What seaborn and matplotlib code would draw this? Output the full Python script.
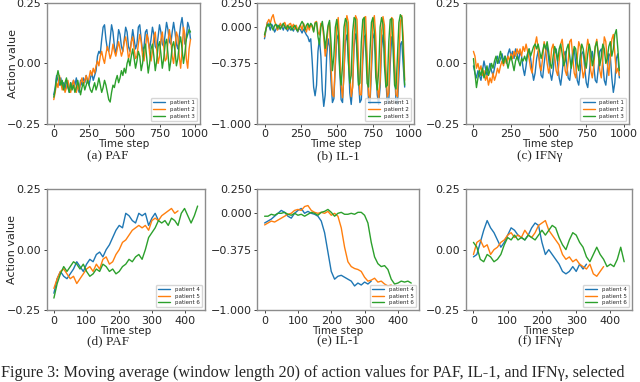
import numpy as np
import pandas as pd
import matplotlib
matplotlib.use("Agg")
import matplotlib.pyplot as plt
import seaborn as sns

STEP = 10

# ---- top row: patients 1-3 (about 980 steps) ----
paf_p1 = [-0.13, -0.10, -0.05, -0.07, -0.09, -0.06, -0.10, -0.08, -0.11, -0.07,
          -0.09, -0.12, -0.08, -0.10, -0.07, -0.09, -0.06, -0.10, -0.12, -0.07,
          -0.09, -0.06, -0.08, -0.05, -0.07, -0.09, -0.06, -0.04, -0.07, -0.05,
          -0.03, 0.03, 0.05, 0.04, 0.10, 0.15, 0.16, 0.10, 0.06, 0.05,
          0.10, 0.16, 0.13, 0.07, 0.04, 0.08, 0.14, 0.12, 0.07, 0.05,
          0.10, 0.15, 0.13, 0.07, 0.05, 0.09, 0.14, 0.10, 0.06, 0.08,
          0.15, 0.16, 0.10, 0.05, 0.07, 0.13, 0.14, 0.09, 0.06, 0.10,
          0.15, 0.12, 0.07, 0.06, 0.11, 0.16, 0.13, 0.08, 0.07, 0.12,
          0.17, 0.14, 0.09, 0.08, 0.13, 0.17, 0.13, 0.08, 0.06, 0.11,
          0.16, 0.19, 0.14, 0.08, 0.10, 0.17, 0.15, 0.10]
paf_p2 = [-0.15, -0.12, -0.08, -0.10, -0.05, -0.08, -0.11, -0.09, -0.12, -0.10,
          -0.07, -0.10, -0.12, -0.09, -0.07, -0.10, -0.12, -0.09, -0.11, -0.08,
          -0.06, -0.09, -0.07, -0.05, -0.08, -0.06, -0.03, -0.05, -0.02, -0.04,
          -0.01, 0.01, -0.01, 0.03, 0.05, 0.02, 0.00, 0.04, 0.07, 0.05,
          0.02, 0.04, 0.08, 0.05, 0.03, 0.06, 0.09, 0.06, 0.03, 0.05,
          0.09, 0.11, 0.07, 0.02, 0.04, 0.09, 0.11, 0.06, 0.02, 0.03,
          0.08, 0.12, 0.09, 0.03, 0.01, 0.06, 0.12, 0.10, 0.04, 0.01,
          0.05, 0.11, 0.13, 0.06, 0.00, 0.03, 0.10, 0.13, 0.07, 0.01,
          0.02, 0.09, 0.14, 0.10, 0.03, 0.00, 0.06, 0.13, 0.11, 0.03,
          -0.02, 0.05, 0.15, 0.12, 0.02, -0.02, 0.06, 0.10]
paf_p3 = [-0.14, -0.11, -0.06, -0.03, -0.06, -0.09, -0.07, -0.11, -0.08, -0.06,
          -0.10, -0.12, -0.08, -0.11, -0.09, -0.12, -0.10, -0.07, -0.10, -0.13,
          -0.10, -0.08, -0.11, -0.09, -0.07, -0.09, -0.11, -0.12, -0.10, -0.08,
          -0.11, -0.09, -0.06, -0.09, -0.12, -0.10, -0.07, -0.09, -0.12, -0.15,
          -0.16, -0.12, -0.09, -0.10, -0.07, -0.05, -0.08, -0.06, -0.03, -0.05,
          -0.02, -0.04, 0.00, 0.02, -0.01, 0.03, 0.06, 0.02, -0.02, 0.01,
          0.05, 0.03, -0.03, 0.00, 0.06, 0.08, 0.02, -0.04, 0.00, 0.06,
          0.08, 0.03, -0.03, 0.01, 0.07, 0.09, 0.04, -0.02, 0.02, 0.08,
          0.10, 0.04, -0.03, 0.01, 0.07, 0.09, 0.05, -0.01, 0.02, 0.08,
          0.11, 0.06, 0.00, 0.04, 0.10, 0.12, 0.14, 0.13]

il1_p1 = [-0.12, -0.03, 0.05, 0.02, -0.03, 0.03, 0.00, -0.05, -0.02, 0.02,
          -0.02, 0.03, 0.01, -0.03, 0.02, -0.01, -0.04, 0.00, -0.03, -0.01,
          -0.04, 0.00, -0.02, -0.05, -0.01, -0.03, -0.06, -0.02, -0.05, -0.08,
          -0.10, -0.15, -0.12, -0.35, -0.62, -0.71, -0.60, -0.25, -0.12, -0.30,
          -0.65, -0.82, -0.70, -0.30, -0.12, -0.20, -0.55, -0.78, -0.74, -0.40,
          -0.12, -0.08, -0.40, -0.75, -0.78, -0.45, -0.14, -0.08, -0.30, -0.68,
          -0.80, -0.60, -0.20, -0.07, -0.15, -0.55, -0.78, -0.75, -0.35, -0.10,
          -0.08, -0.42, -0.76, -0.79, -0.45, -0.12, -0.06, -0.30, -0.70, -0.80,
          -0.62, -0.22, -0.08, -0.15, -0.55, -0.79, -0.76, -0.38, -0.10, -0.10,
          -0.45, -0.77, -0.80, -0.50, -0.18, -0.15, -0.40, -0.62]
il1_p2 = [-0.10, -0.02, 0.05, 0.08, 0.04, 0.10, 0.13, 0.06, 0.02, -0.03,
          0.01, 0.04, 0.00, 0.03, 0.05, 0.01, -0.02, 0.03, 0.04, 0.00,
          0.03, -0.02, 0.02, -0.04, -0.01, 0.02, -0.03, 0.04, 0.00, -0.05,
          0.02, -0.03, 0.03, 0.00, -0.04, 0.05, 0.06, -0.05, -0.08, 0.04,
          0.02, -0.10, -0.30, -0.20, 0.00, 0.05, -0.40, -0.70, -0.72, -0.35,
          0.00, 0.10, -0.15, -0.60, -0.73, -0.50, 0.00, 0.12, 0.05, -0.45,
          -0.72, -0.62, -0.10, 0.12, 0.08, -0.35, -0.70, -0.70, -0.25, 0.10,
          0.11, -0.30, -0.70, -0.74, -0.35, 0.05, 0.12, -0.10, -0.60, -0.74,
          -0.55, -0.05, 0.11, 0.02, -0.45, -0.72, -0.68, -0.20, 0.10, 0.08,
          -0.35, -0.70, -0.72, -0.30, 0.05, 0.12, -0.10, -0.55]
il1_p3 = [-0.08, -0.02, 0.03, 0.01, 0.04, 0.00, -0.03, 0.02, 0.03, -0.01,
          0.02, -0.02, 0.01, 0.04, 0.00, -0.02, 0.02, -0.01, 0.01, -0.03,
          0.00, 0.02, -0.02, -0.04, 0.00, 0.03, 0.06, 0.03, -0.03, 0.02,
          0.04, 0.00, 0.04, 0.02, -0.05, 0.04, 0.05, -0.10, -0.18, 0.00,
          0.06, -0.05, -0.22, -0.10, 0.02, 0.07, -0.15, -0.45, -0.30, 0.00,
          0.08, -0.05, -0.45, -0.60, -0.40, 0.00, 0.09, 0.05, -0.35, -0.58,
          -0.50, -0.05, 0.10, 0.08, -0.30, -0.60, -0.58, -0.15, 0.08, 0.10,
          -0.20, -0.58, -0.62, -0.25, 0.05, 0.10, -0.05, -0.52, -0.65, -0.45,
          0.00, 0.10, 0.03, -0.40, -0.62, -0.60, -0.15, 0.08, 0.09, -0.25,
          -0.60, -0.64, -0.30, 0.05, 0.13, 0.10, -0.25, -0.60]

ifn_p1 = [-0.01, -0.04, -0.06, -0.03, -0.05, -0.07, -0.03, 0.01, -0.02, -0.05,
          -0.03, 0.00, -0.03, -0.05, -0.02, 0.01, 0.03, 0.00, 0.02, 0.04,
          0.01, 0.03, 0.00, 0.04, 0.06, 0.03, 0.05, 0.02, 0.06, 0.04,
          0.01, 0.05, 0.03, -0.02, -0.05, -0.01, 0.04, 0.06, 0.02, -0.03,
          -0.07, -0.04, 0.02, 0.05, 0.01, -0.05, -0.06, 0.00, 0.05, 0.07,
          0.02, -0.04, -0.07, -0.03, 0.04, 0.06, 0.00, -0.06, -0.09, -0.04,
          0.03, 0.05, 0.00, -0.06, -0.07, -0.01, 0.05, 0.06, 0.00, -0.07,
          -0.09, -0.03, 0.04, 0.05, -0.02, -0.08, -0.10, -0.04, 0.03, 0.05,
          -0.01, -0.07, -0.08, -0.02, 0.05, 0.06, 0.00, -0.07, -0.09, -0.03,
          0.04, 0.03, -0.06, -0.12, -0.08, 0.02, 0.04, -0.06]
ifn_p2 = [0.05, 0.03, -0.02, 0.00, -0.03, -0.01, -0.05, -0.03, -0.07, -0.05,
          -0.09, -0.06, -0.08, -0.04, -0.07, -0.05, -0.02, -0.04, -0.01, 0.01,
          -0.01, 0.02, 0.00, 0.03, 0.01, 0.04, 0.02, 0.05, 0.03, 0.06,
          0.04, 0.06, 0.03, 0.07, 0.05, 0.08, 0.05, 0.02, -0.02, -0.04,
          0.02, 0.08, 0.11, 0.06, -0.01, -0.03, 0.02, 0.09, 0.06, 0.00,
          -0.04, -0.01, 0.06, 0.08, 0.03, -0.03, -0.05, 0.01, 0.08, 0.10,
          0.04, -0.03, -0.05, 0.01, 0.09, 0.10, 0.03, -0.04, -0.06, 0.02,
          0.09, 0.07, -0.01, -0.06, -0.03, 0.05, 0.10, 0.06, -0.03, -0.06,
          -0.01, 0.07, 0.10, 0.04, -0.03, -0.06, 0.02, 0.11, 0.09, 0.00,
          -0.05, 0.03, 0.10, 0.12, 0.04, -0.04, -0.02, -0.05]
ifn_p3 = [0.02, -0.04, -0.10, -0.06, -0.03, -0.05, -0.02, -0.06, -0.04, -0.01,
          -0.05, -0.03, 0.00, -0.02, 0.01, 0.03, 0.00, 0.02, 0.05, 0.02,
          0.00, 0.03, 0.01, -0.02, 0.01, 0.03, 0.00, -0.03, 0.01, 0.03,
          0.01, -0.01, 0.02, 0.01, 0.03, 0.01, 0.04, 0.06, 0.03, 0.05,
          0.07, 0.08, 0.06, 0.08, 0.05, 0.02, 0.05, 0.08, 0.06, 0.09,
          0.05, 0.00, -0.02, 0.03, 0.07, 0.05, 0.01, 0.06, 0.08, 0.04,
          -0.01, 0.01, 0.06, 0.08, 0.03, -0.02, 0.02, 0.07, 0.06, 0.00,
          -0.03, 0.03, 0.08, 0.06, 0.01, -0.02, 0.04, 0.08, 0.05, -0.01,
          0.02, 0.07, 0.09, 0.04, -0.01, 0.03, 0.08, 0.06, 0.00, 0.02,
          0.07, 0.09, 0.03, 0.06, 0.12, 0.14, 0.06, -0.03]

# ---- bottom row: patients 4-6 (shorter episodes) ----
paf_p4 = [-0.18, -0.12, -0.09, -0.11, -0.12, -0.10, -0.08, -0.05, -0.07, -0.09,
          -0.06, -0.04, -0.05, -0.02, -0.01, -0.03, 0.00, 0.02, 0.05, 0.08,
          0.10, 0.09, 0.15, 0.14, 0.12, 0.11, 0.15, 0.14, 0.15, 0.10,
          0.13, 0.15, 0.12]
paf_p5 = [-0.16, -0.12, -0.09, -0.08, -0.10, -0.12, -0.11, -0.14, -0.12, -0.10,
          -0.08, -0.07, -0.09, -0.06, -0.08, -0.04, -0.03, -0.06, -0.05, -0.02,
          0.00, 0.03, 0.04, 0.06, 0.08, 0.09, 0.10, 0.09, 0.10, 0.08,
          0.12, 0.13, 0.12, 0.14, 0.15, 0.16, 0.17, 0.15, 0.16]
paf_p6 = [-0.20, -0.14, -0.10, -0.07, -0.09, -0.07, -0.05, -0.06, -0.08, -0.06,
          -0.09, -0.11, -0.10, -0.08, -0.09, -0.06, -0.07, -0.09, -0.08, -0.10,
          -0.09, -0.07, -0.06, -0.04, -0.05, -0.03, -0.02, -0.04, 0.00, 0.05,
          0.07, 0.09, 0.12, 0.11, 0.12, 0.10, 0.13, 0.12, 0.10, 0.15,
          0.17, 0.14, 0.11, 0.14, 0.18]

il1_p4 = [-0.10, -0.08, -0.06, -0.03, 0.00, 0.03, 0.01, -0.03, -0.05, 0.00,
          0.03, 0.05, 0.00, 0.02, 0.00, -0.01, -0.03, -0.08, -0.20, -0.40,
          -0.60, -0.68, -0.65, -0.64, -0.66, -0.68, -0.70, -0.75, -0.72, -0.74,
          -0.71, -0.73, -0.70]
il1_p5 = [-0.12, -0.10, -0.08, -0.09, -0.07, -0.05, -0.03, -0.01, 0.00, 0.03,
          0.04, 0.03, 0.07, 0.08, 0.03, 0.01, 0.00, 0.01, 0.00, 0.02,
          -0.02, 0.00, -0.03, -0.15, -0.35, -0.50, -0.55, -0.57, -0.58, -0.60,
          -0.66, -0.70, -0.69, -0.67, -0.71, -0.70, -0.73, -0.75, -0.74]
il1_p6 = [-0.03, -0.03, -0.01, -0.02, 0.00, 0.00, 0.01, -0.01, -0.02, 0.00,
          -0.02, -0.01, -0.03, -0.01, 0.01, 0.00, -0.02, 0.01, 0.02, 0.04,
          0.01, -0.03, 0.00, 0.01, -0.01, -0.01, 0.00, -0.01, 0.01, 0.01,
          -0.02, -0.10, -0.30, -0.45, -0.52, -0.55, -0.54, -0.58, -0.68, -0.73,
          -0.72, -0.70, -0.71, -0.70, -0.72]

ifn_p4 = [-0.03, -0.02, 0.03, 0.08, 0.12, 0.09, 0.07, 0.04, 0.01, 0.03,
          0.06, 0.09, 0.08, 0.06, 0.05, 0.04, 0.06, 0.09, 0.11, 0.10,
          0.03, -0.02, 0.00, -0.02, -0.04, -0.06, -0.09, -0.10, -0.09, -0.07,
          -0.09, -0.06, -0.08, -0.06]
ifn_p5 = [-0.02, 0.03, 0.04, 0.01, 0.02, -0.02, 0.00, 0.01, 0.03, 0.04,
          0.06, 0.07, 0.05, 0.06, 0.05, 0.08, 0.06, 0.05, 0.07, 0.10,
          0.11, 0.12, 0.08, 0.06, 0.04, 0.02, -0.02, -0.04, -0.03, -0.05,
          -0.04, -0.06, -0.07, -0.08, -0.06, -0.10, -0.11, -0.09, -0.07]
ifn_p6 = [0.03, 0.01, -0.04, -0.05, -0.02, -0.03, -0.05, -0.04, -0.02, 0.02,
          0.05, 0.04, 0.06, 0.04, 0.05, 0.04, 0.06, 0.05, 0.04, 0.06,
          0.08, 0.06, 0.08, 0.10, 0.09, 0.05, 0.02, 0.00, 0.04, 0.07,
          0.06, 0.03, 0.01, -0.03, -0.05, -0.02, 0.01, -0.02, -0.04, -0.07,
          -0.06, -0.07, -0.04, 0.01, -0.05]

top_xticks = [0, 250, 500, 750, 1000]
bottom_xticks = [0, 100, 200, 300, 400]
small_yticks = [-0.25, 0.0, 0.25]
il1_yticks = [-1.0, -0.375, 0.0, 0.25]
il1_yticklabels = ["\u22121.000", "\u22120.375", "0.000", "0.250"]

sns.set_style("ticks")
plt.rcParams["font.family"] = ["DejaVu Sans"]

palette = ["#1f77b4", "#ff7f0e", "#2ca02c"]


def make_frame(series):
    rows = []
    for name, vals in series.items():
        for i, v in enumerate(vals):
            rows.append((name, i * STEP, v))
    return pd.DataFrame(rows, columns=["patient", "step", "value"])


def panel(ax, series, xticks, xlim, yticks, ylim, ylabels=None, ylabel=None):
    df = make_frame(series)
    sns.lineplot(data=df, x="step", y="value", hue="patient", palette=palette,
                 estimator=None, linewidth=1.0, ax=ax)
    ax.set_xlim(*xlim)
    ax.set_ylim(*ylim)
    ax.set_xticks(xticks)
    ax.set_yticks(yticks)
    if ylabels is not None:
        ax.set_yticklabels(ylabels)
    ax.tick_params(labelsize=8, length=2.5, width=0.6, pad=1.5)
    ax.set_xlabel("Time step", fontsize=7.5, labelpad=0)
    if ylabel:
        ax.set_ylabel(ylabel, fontsize=8)
        ax.yaxis.set_label_coords(-0.19, 0.5)
    else:
        ax.set_ylabel("")
    for sp in ax.spines.values():
        sp.set_color("#8c8c8c")
        sp.set_linewidth(1.0)
    sns.move_legend(ax, "lower right", title=None, fontsize=4, frameon=True,
                    handlelength=2.2, borderpad=0.4, labelspacing=0.3)


fig = plt.figure(figsize=(6.4, 3.82), dpi=100)

top_b, top_h = 0.676, 0.316
bot_b, bot_h = 0.188, 0.317
ax_a = fig.add_axes([0.073, top_b, 0.239, top_h])
ax_b = fig.add_axes([0.402, top_b, 0.245, top_h])
ax_c = fig.add_axes([0.728, top_b, 0.255, top_h])
ax_d = fig.add_axes([0.073, bot_b, 0.247, bot_h])
ax_e = fig.add_axes([0.402, bot_b, 0.252, bot_h])
ax_f = fig.add_axes([0.728, bot_b, 0.259, bot_h])

top_xlim = (-50, 1035)
bot_xlim = (-22, 462)

panel(ax_a, {"patient 1": paf_p1, "patient 2": paf_p2, "patient 3": paf_p3},
      top_xticks, top_xlim, small_yticks, (-0.25, 0.25), ylabel="Action value")
panel(ax_b, {"patient 1": il1_p1, "patient 2": il1_p2, "patient 3": il1_p3},
      top_xticks, top_xlim, il1_yticks, (-1.0, 0.25), ylabels=il1_yticklabels)
panel(ax_c, {"patient 1": ifn_p1, "patient 2": ifn_p2, "patient 3": ifn_p3},
      top_xticks, top_xlim, small_yticks, (-0.25, 0.25))
panel(ax_d, {"patient 4": paf_p4, "patient 5": paf_p5, "patient 6": paf_p6},
      bottom_xticks, bot_xlim, small_yticks, (-0.25, 0.25), ylabel="Action value")
panel(ax_e, {"patient 4": il1_p4, "patient 5": il1_p5, "patient 6": il1_p6},
      bottom_xticks, bot_xlim, il1_yticks, (-1.0, 0.25), ylabels=il1_yticklabels)
panel(ax_f, {"patient 4": ifn_p4, "patient 5": ifn_p5, "patient 6": ifn_p6},
      bottom_xticks, bot_xlim, small_yticks, (-0.25, 0.25))

serif = ["Liberation Serif", "DejaVu Serif"]
subcaps = [("(a) PAF", 0.169, 0.592), ("(b) IL-1", 0.528, 0.592),
           ("(c) IFN\u03b3", 0.844, 0.592), ("(d) PAF", 0.169, 0.107),
           ("(e) IL-1", 0.528, 0.107), ("(f) IFN\u03b3", 0.844, 0.107)]
for txt, x, y in subcaps:
    fig.text(x, y, txt, ha="center", va="center", fontsize=9.5, family=serif)

fig.text(0.002, 0.014,
         "Figure 3: Moving average (window length 20) of action values for PAF, "
         "IL-1, and IFN\u03b3, selected",
         ha="left", va="baseline", fontsize=11.6, family=serif)

fig.savefig("out.png", dpi=100)
plt.close(fig)
